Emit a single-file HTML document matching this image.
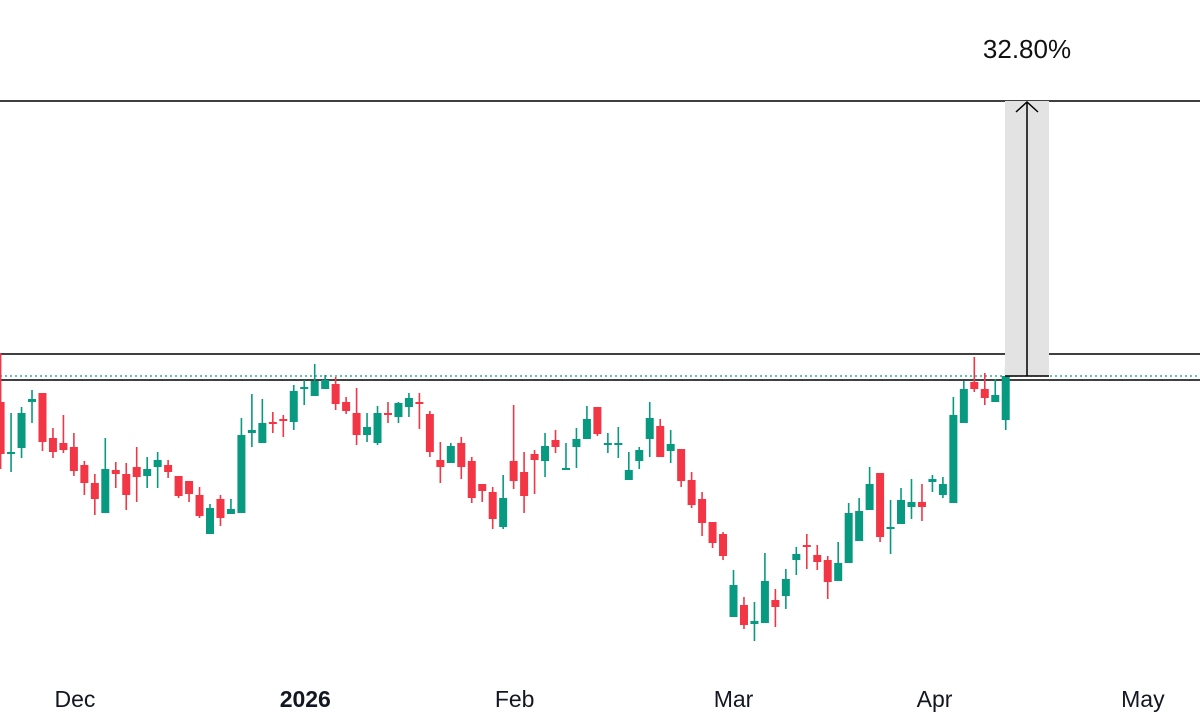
<!DOCTYPE html>
<html><head><meta charset="utf-8"><style>
html,body{margin:0;padding:0;background:#fff;}
svg{display:block;font-family:"Liberation Sans",sans-serif;}
</style></head><body>
<svg id="chart" width="1200" height="726" viewBox="0 0 1200 726" xmlns="http://www.w3.org/2000/svg">
<g id="levels"></g>
<g id="candles"></g>
<g id="measure"></g>
<g id="xaxis"></g>
</svg>
<script>
const opens=[31.8,26.7,27.2,31.8,32.7,28.2,27.7,27.3,25.5,23.7,20.7,25.0,24.6,25.3,24.4,25.3,25.5,24.4,23.9,22.5,18.6,22.1,20.6,20.7,28.7,27.7,29.8,30.1,29.8,33.1,32.4,33.1,33.6,31.8,30.7,28.5,27.7,30.7,30.3,31.3,31.8,30.6,26.0,25.7,27.7,25.9,23.6,22.8,19.3,25.9,24.8,26.6,25.9,28.0,25.0,27.3,28.1,31.3,27.6,27.6,24.0,25.9,28.1,29.4,26.9,27.1,24.0,22.1,19.8,18.6,10.3,11.5,9.6,9.7,12.0,12.4,16.0,17.5,16.5,16.0,13.9,15.7,17.9,21.0,24.7,19.2,19.6,21.3,21.8,23.8,22.5,21.7,29.7,33.8,33.1,31.8,30.0];
const highs=[36.7,30.7,31.3,33.0,32.7,29.2,30.5,28.7,25.9,24.6,28.2,25.8,25.7,27.3,26.3,26.8,26.0,24.4,23.9,23.3,21.6,22.5,22.1,30.2,32.6,32.1,30.8,30.5,33.5,34.0,35.6,34.5,34.3,32.3,33.2,30.7,31.4,31.8,31.8,32.7,32.7,30.9,27.8,27.7,28.3,26.3,23.6,23.3,24.5,31.5,26.8,27.0,28.7,29.0,27.7,29.2,31.4,31.3,28.7,29.3,26.8,27.3,31.8,30.1,29.0,27.1,24.8,22.8,19.8,18.8,15.0,12.3,11.8,16.7,13.1,15.1,17.3,18.6,17.5,16.4,17.8,21.7,22.2,25.3,24.7,22.0,23.2,24.1,23.6,24.5,24.3,32.3,33.9,36.3,34.7,34.1,35.3];
const lows=[25.1,24.8,26.2,29.7,26.9,26.2,26.7,24.4,22.5,20.5,20.7,23.2,21.0,21.8,23.2,23.2,24.2,22.2,21.8,20.2,18.6,19.4,20.6,20.7,27.3,27.7,28.7,28.3,29.0,31.5,32.4,33.1,31.0,30.6,27.5,27.8,27.5,29.7,29.7,30.3,29.1,26.3,23.7,25.7,24.1,21.7,21.8,19.1,19.1,23.1,20.7,22.6,24.3,26.7,25.0,25.2,28.1,28.4,26.7,26.2,24.0,25.1,26.3,26.3,25.7,23.3,21.2,18.4,17.2,16.0,10.3,9.1,7.9,9.7,9.3,11.1,14.5,15.1,15.0,12.1,13.9,15.7,17.9,21.0,17.8,16.6,19.6,20.1,19.9,22.8,22.2,21.7,29.7,32.8,31.5,31.8,29.0];
const closes=[26.6,26.8,30.7,32.1,27.8,26.8,27.0,24.9,23.7,22.1,25.1,24.6,22.5,24.3,25.1,26.0,24.8,22.4,22.6,20.4,21.2,20.2,21.1,28.5,29.0,29.7,29.7,30.0,32.9,33.3,33.9,34.0,31.6,30.9,28.5,29.3,30.7,30.6,31.7,32.2,31.7,26.8,25.3,27.4,25.3,22.2,22.9,20.1,22.2,23.9,22.4,26.0,27.4,27.3,25.2,28.1,30.1,28.6,27.7,27.7,25.0,27.0,30.2,26.3,27.6,23.9,21.5,19.7,17.7,16.4,13.5,9.5,9.9,13.9,11.3,14.1,16.6,17.4,15.8,13.8,15.7,20.7,20.9,23.6,18.3,19.3,22.0,21.8,21.3,24.1,23.6,30.5,33.1,33.1,32.2,32.5,34.4];
const levelValues=[61.9,36.6,34.0];
const lastPrice=34.4;
const monthLabels=["Dec","2026","Feb","Mar","Apr","May"];
const monthIndex=[7.1,29.1,49.1,70.0,89.2,109.1];
const measureText="32.80%";

const NS="http://www.w3.org/2000/svg";
function yS(p){return (72-p)*10;}
function xS(i){return 0.6+i*10.47;}
function mk(tag,attrs,parent){const e=document.createElementNS(NS,tag);for(const k in attrs)e.setAttribute(k,attrs[k]);parent.appendChild(e);return e;}
const GREEN="#089981",RED="#F23645";

const lv=document.getElementById('levels');
levelValues.forEach((v,i)=>{
  const l=mk('line',{x1:0,x2:1200,y1:yS(v),y2:yS(v),stroke:'#000','stroke-width':1.5},lv);
  
  
});
const dl=mk('line',{x1:0,x2:1200,y1:yS(lastPrice),y2:yS(lastPrice),stroke:GREEN,'stroke-width':1.2,'stroke-dasharray':'2 3'},lv);



const cg=document.getElementById('candles');
for(let i=0;i<opens.length;i++){
  const up=closes[i]>=opens[i];const col=up?GREEN:RED;const x=xS(i);
  const g=mk('g',{},cg);
  
  
  mk('line',{x1:x,x2:x,y1:yS(highs[i]),y2:yS(lows[i]),stroke:col,'stroke-width':1.6},g);
  const top=yS(Math.max(opens[i],closes[i])),bot=yS(Math.min(opens[i],closes[i]));
  mk('rect',{x:x-4,y:top,width:8,height:Math.max(bot-top,2),fill:col},g);
}

const ms=document.getElementById('measure');
const mx=1027,y1=yS(lastPrice),y2=yS(levelValues[0]);
const r=mk('rect',{x:mx-22,y:y2,width:44,height:y1-y2,fill:'#e3e3e3'},ms);


mk('line',{x1:mx,x2:mx,y1:y1,y2:y2+1,stroke:'#000','stroke-width':1.5},ms);
mk('polyline',{points:`${mx-11},${y2+11} ${mx},${y2+1} ${mx+11},${y2+11}`,fill:'none',stroke:'#000','stroke-width':1.5},ms);
mk('line',{x1:mx-22,x2:mx+22,y1:y1,y2:y1,stroke:'#000','stroke-width':1.5},ms);
const mt=mk('text',{x:mx,y:58,'text-anchor':'middle','font-size':26,fill:'#111'},ms);
mt.textContent=measureText;



const xa=document.getElementById('xaxis');
monthLabels.forEach((m,i)=>{
  const t=mk('text',{x:xS(monthIndex[i]),y:707,'text-anchor':'middle','font-size':23,fill:'#131722','font-weight':m==='2026'?'bold':'normal'},xa);
  t.textContent=m;
  
  
});
</script>
</body></html>
